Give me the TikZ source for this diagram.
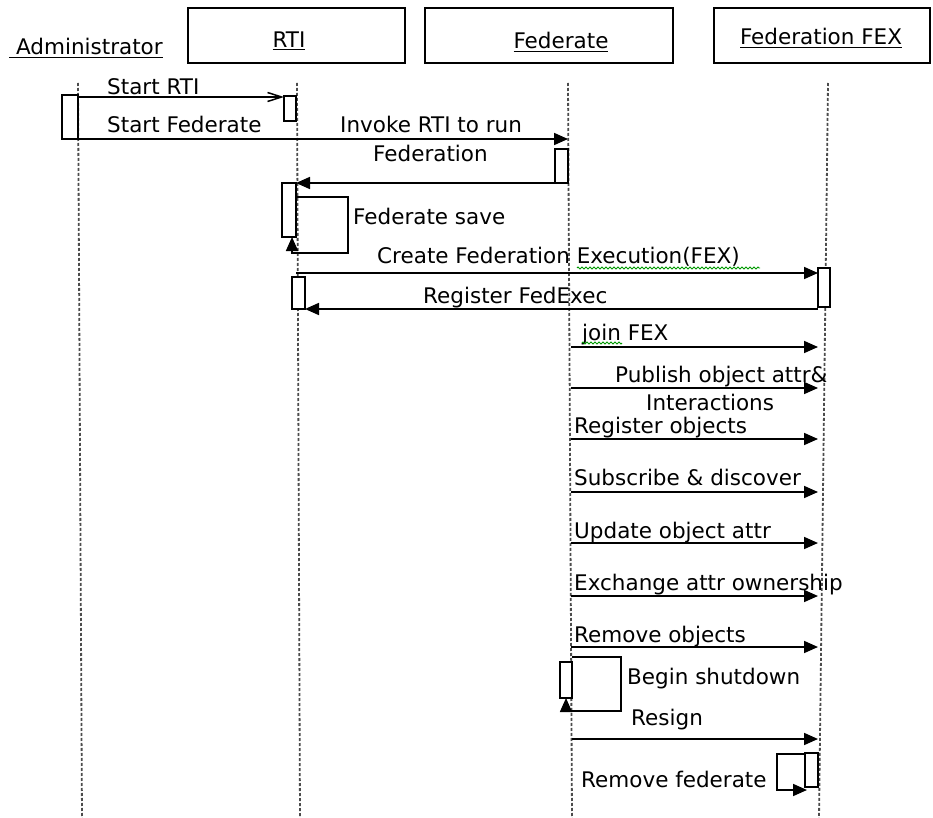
\documentclass[tikz,border=0pt]{standalone}
\usepackage{fontspec}
\setmainfont{DejaVu Sans}
\usetikzlibrary{arrows.meta,decorations.pathmorphing}
\newcommand\lblfont{\fontsize{21.5}{25}\selectfont}
\begin{document}
\begin{tikzpicture}[x=1pt,y=-1pt,
  lbl/.style={font=\lblfont, inner sep=0pt, anchor=base west},
  headtxt/.style={font=\lblfont, inner sep=0pt, anchor=base},
  headbox/.style={draw, line width=1.6pt, inner sep=0pt},
  life/.style={line width=1.8pt, black!70, dash pattern=on 3pt off 2pt},
  act/.style={draw, fill=white, line width=1.6pt},
  msg/.style={line width=1.7pt, -{Triangle[length=14pt,width=12pt]}},
  openmsg/.style={line width=1.7pt, -{Straight Barb[length=14pt,width=9pt,line width=1.5pt]}},
  spell/.style={green!60!black, line width=0.8pt, decorate,
    decoration={zigzag, segment length=4pt, amplitude=1.1pt}}]
\useasboundingbox (0,0) rectangle (933,818);

% ---- object heads ----
\node[headbox, minimum width=217pt, minimum height=55pt] (boxRTI) at (296.5,35.5) {};
\node[headbox, minimum width=248pt, minimum height=55pt] (boxFed) at (549,35.5) {};
\node[headbox, minimum width=216pt, minimum height=55pt] (boxFEX) at (822,35.5) {};
\node[headtxt] (hAdmin) at (86,55) {\underline{\ Administrator}};
\node[headtxt] (hRTI) at (289,48) {\underline{RTI}};
\node[headtxt] (hFed) at (561,49) {\underline{Federate}};
\node[headtxt] (hFEX) at (821,45) {\underline{Federation FEX}};

% ---- lifelines ----
\coordinate (adminTop) at (78,83);  \coordinate (adminBot) at (82,818);
\coordinate (rtiTop)   at (297,83); \coordinate (rtiBot)   at (300,818);
\coordinate (fedTop)   at (568,83); \coordinate (fedBot)   at (572,818);
\coordinate (fexTop)   at (828,83); \coordinate (fexBot)   at (819,818);
\draw[life] (adminTop) -- (adminBot);
\draw[life] (rtiTop) -- (rtiBot);
\draw[life] (fedTop) -- (fedBot);
\draw[life] (fexTop) -- (fexBot);

% ---- activation bars ----
\draw[act] (62,95) rectangle (78,139);
\draw[act] (284,96) rectangle (296,121);
\draw[act] (555,149) rectangle (568,183);
\draw[act] (282,183) rectangle (296,237);
\draw[act] (818,268) rectangle (830,307);
\draw[act] (292,277) rectangle (305,309);
\draw[act] (560,662) rectangle (572,698);
\draw[act] (805,753) rectangle (818,787);

% ---- message end points ----
\coordinate (m1a) at (78,97);   \coordinate (m1b) at (284,97);
\coordinate (m2a) at (62,139);  \coordinate (m2b) at (568,139);
\coordinate (m3a) at (555,183); \coordinate (m3b) at (296,183);
\coordinate (s1a) at (296,197); \coordinate (s1b) at (292,237);
\coordinate (m4a) at (296,273); \coordinate (m4b) at (818,273);
\coordinate (m5a) at (818,309); \coordinate (m5b) at (305,309);
\coordinate (m6a) at (571,347); \coordinate (m6b) at (818,347);
\coordinate (m7a) at (571,388); \coordinate (m7b) at (818,388);
\coordinate (m8a) at (571,439); \coordinate (m8b) at (818,439);
\coordinate (m9a) at (571,492); \coordinate (m9b) at (818,492);
\coordinate (m10a) at (571,543); \coordinate (m10b) at (818,543);
\coordinate (m11a) at (571,596); \coordinate (m11b) at (818,596);
\coordinate (m12a) at (571,647); \coordinate (m12b) at (818,647);
\coordinate (s2a) at (572,657); \coordinate (s2b) at (566,698);
\coordinate (m13a) at (572,739); \coordinate (m13b) at (818,739);
\coordinate (s3a) at (805,754); \coordinate (s3b) at (807,790);

% ---- messages ----
\draw[openmsg] (m1a) -- (m1b);
\draw[msg] (m2a) -- (m2b);
\draw[msg] (m3a) -- (m3b);
\draw[msg] (s1a) -- (348,197) -- (348,253) -- (292,253) -- (s1b);
\draw[msg] (m4a) -- (m4b);
\draw[msg] (m5a) -- (m5b);
\draw[msg] (m6a) -- (m6b);
\draw[msg] (m7a) -- (m7b);
\draw[msg] (m8a) -- (m8b);
\draw[msg] (m9a) -- (m9b);
\draw[msg] (m10a) -- (m10b);
\draw[msg] (m11a) -- (m11b);
\draw[msg] (m12a) -- (m12b);
\draw[msg] (s2a) -- (621,657) -- (621,711) -- (566,711) -- (s2b);
\draw[msg] (m13a) -- (m13b);
\draw[msg] (s3a) -- (777,754) -- (777,790) -- (s3b);

% ---- message labels ----
\node[lbl] (t1) at (107,95) {Start RTI};
\node[lbl] (t2) at (107,133) {Start Federate};
\node[lbl] (t3) at (340,133) {Invoke RTI to run};
\node[lbl] (t3b) at (373,162) {Federation};
\node[lbl] (t4) at (353,225) {Federate save};
\node[lbl] (t5) at (377,263) {Create Federation Execution(FEX)};
\node[lbl] (t6) at (423,303) {Register FedExec};
\node[lbl] (t7) at (582,340) {join FEX};
\node[lbl] (t8) at (615,382) {Publish object attr\&};
\node[lbl] (t8b) at (646,410) {Interactions};
\node[lbl] (t9) at (574,433) {Register objects};
\node[lbl] (t10) at (574,485) {Subscribe \& discover};
\node[lbl] (t11) at (574,538) {Update object attr};
\node[lbl] (t12) at (574,590) {Exchange attr ownership};
\node[lbl] (t13) at (574,642) {Remove objects};
\node[lbl] (t14) at (627,684) {Begin shutdown};
\node[lbl] (t15) at (631,725) {Resign};
\node[lbl] (t16) at (581,787) {Remove federate};

% ---- proofing marks ----
\draw[spell] (577,268) -- (760,268);
\draw[spell] (582,343) -- (622,343);
\end{tikzpicture}
\end{document}
